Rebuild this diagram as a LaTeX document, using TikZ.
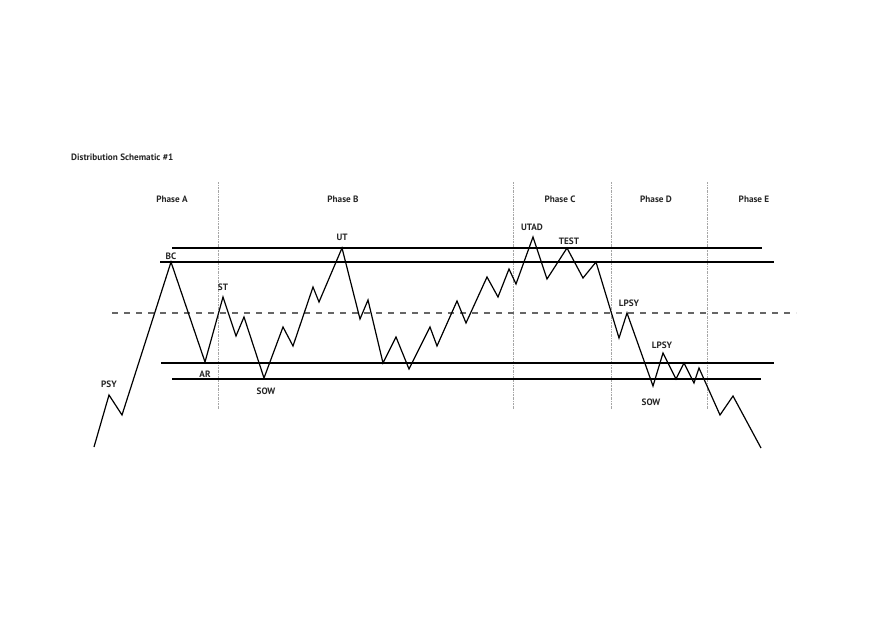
\documentclass[tikz,border=0pt]{standalone}
\usepackage{fontspec}
\setmainfont{PT Sans}
\begin{document}
\begin{tikzpicture}[x=1pt,y=-1pt,
  lbl/.style={font=\fontsize{9.2}{11}\selectfont\bfseries, text=black!85, inner sep=0pt},
  level/.style={line width=1.1pt, black},
  levelthick/.style={line width=1.6pt, black},
  mid/.style={line width=1.1pt, black!60, dash pattern=on 6pt off 6pt},
  phasesep/.style={line width=0.6pt, black!35, dash pattern=on 2pt off 1pt on 0.5pt off 1pt},
  price/.style={line width=1.2pt, black, line join=miter}]
\useasboundingbox[fill=white] (0,0) rectangle (880,621);
% title
\node[lbl, anchor=west] (title) at (71,157) {Distribution Schematic \#1};
% phase separators
\foreach \x/\n in {218/a,513/b,611/c,707/d}{
  \coordinate (s\n t) at (\x,182);
  \coordinate (s\n b) at (\x,409);
  \draw[phasesep] (s\n t) -- (s\n b);
}
% phase labels
\node[lbl] (pA) at (172,199) {Phase A};
\node[lbl] (pB) at (343,199) {Phase B};
\node[lbl] (pC) at (560,199) {Phase C};
\node[lbl] (pD) at (656,199) {Phase D};
\node[lbl] (pE) at (754,199) {Phase E};
% levels
\coordinate (l1a) at (172,248); \coordinate (l1b) at (762,248);
\coordinate (l2a) at (160,262); \coordinate (l2b) at (774,262);
\coordinate (mda) at (112,313); \coordinate (mdb) at (796,313);
\coordinate (l3a) at (161,363); \coordinate (l3b) at (774,363);
\coordinate (l4a) at (172,379); \coordinate (l4b) at (761,379);
\draw[level] (l1a) -- (l1b);
\draw[level] (l2a) -- (l2b);
\draw[mid] (mda) -- (mdb);
\draw[levelthick] (l3a) -- (l3b);
\draw[level] (l4a) -- (l4b);
% price path
\coordinate (p0) at (94,447);
\coordinate (psy) at (109,395);
\coordinate (p1) at (122,415);
\coordinate (bc) at (171,262);
\coordinate (ar) at (205,362);
\coordinate (st) at (223,297);
\coordinate (p2) at (236,336);
\coordinate (p3) at (244,317);
\coordinate (sow) at (264,378);
\coordinate (p4) at (283,327);
\coordinate (p5) at (293,346);
\coordinate (p6) at (313,287);
\coordinate (p7) at (319,302);
\coordinate (ut) at (342,248);
\coordinate (p8) at (360,319);
\coordinate (p9) at (368,300);
\coordinate (p10) at (383,363);
\coordinate (p11) at (396,337);
\coordinate (p12) at (409,369);
\coordinate (p13) at (430,327);
\coordinate (p14) at (437,346);
\coordinate (p15) at (457,301);
\coordinate (p16) at (466,323);
\coordinate (p17) at (487,277);
\coordinate (p18) at (498,297);
\coordinate (p19) at (509,269);
\coordinate (p20) at (516,284);
\coordinate (utad) at (533,237);
\coordinate (p21) at (547,279);
\coordinate (test) at (567,248);
\coordinate (p22) at (583,278);
\coordinate (p23) at (596,262);
\coordinate (p24) at (619,338);
\coordinate (lpsy) at (627,313);
\coordinate (sow2) at (653,386);
\coordinate (lpsy2) at (663,353);
\coordinate (p25) at (676,379);
\coordinate (p26) at (684,363);
\coordinate (p27) at (694,383);
\coordinate (p28) at (699,368);
\coordinate (p29) at (720,415);
\coordinate (p30) at (733,396);
\coordinate (pend) at (761,448);
\draw[price] (p0) -- (psy) -- (p1) -- (bc) -- (ar) -- (st) -- (p2) -- (p3) -- (sow)
  -- (p4) -- (p5) -- (p6) -- (p7) -- (ut) -- (p8) -- (p9) -- (p10) -- (p11) -- (p12)
  -- (p13) -- (p14) -- (p15) -- (p16) -- (p17) -- (p18) -- (p19) -- (p20) -- (utad)
  -- (p21) -- (test) -- (p22) -- (p23) -- (p24) -- (lpsy) -- (sow2) -- (lpsy2)
  -- (p25) -- (p26) -- (p27) -- (p28) -- (p29) -- (p30) -- (pend);
% event labels
\node[lbl] (tpsy) at (109,384) {PSY};
\node[lbl] (tbc) at (171,256) {BC};
\node[lbl] (tar) at (205,374) {AR};
\node[lbl] (tst) at (223,287) {ST};
\node[lbl] (tsow) at (266,391) {SOW};
\node[lbl] (tut) at (342,237) {UT};
\node[lbl] (tutad) at (532,227) {UTAD};
\node[lbl] (ttest) at (569,241) {TEST};
\node[lbl] (tlpsy) at (629,303) {LPSY};
\node[lbl] (tlpsy2) at (662,345) {LPSY};
\node[lbl] (tsow2) at (651,402) {SOW};
\end{tikzpicture}
\end{document}
